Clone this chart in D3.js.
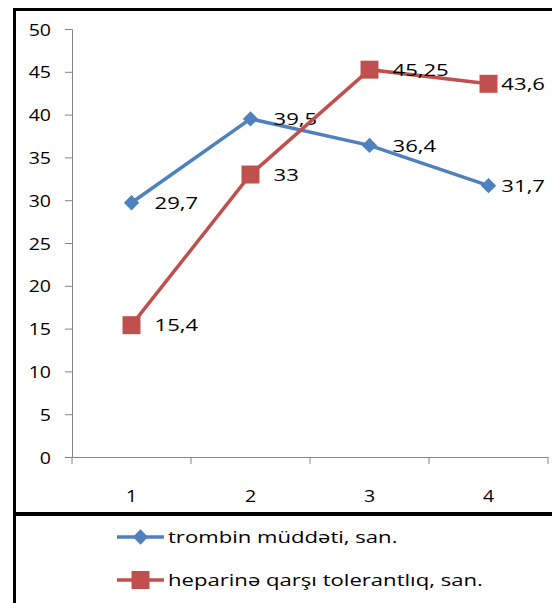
<!DOCTYPE html>
<html>
<head>
<meta charset="utf-8">
<script src="https://cdn.jsdelivr.net/npm/d3@7"></script>
<style>
  body { margin: 0; background: #fff; }
  svg text { font-family: "Open Sans", "Liberation Sans", sans-serif; fill: #000; font-size: 17px; }
</style>
</head>
<body>
<svg id="chart" width="552" height="603"></svg>
<script>
/* ==== Data ==== */
var categories = ["1", "2", "3", "4"];
var trombinValues = [29.7, 39.5, 36.4, 31.7];
var trombinLabels = ["29,7", "39,5", "36,4", "31,7"];
var heparinValues = [15.4, 33, 45.25, 43.6];
var heparinLabels = ["15,4", "33", "45,25", "43,6"];
var yTicks = [0, 5, 10, 15, 20, 25, 30, 35, 40, 45, 50];
var seriesNames = ["trombin müddəti, san.", "heparinə qarşı tolerantlıq, san."];

/* ==== Layout ==== */
var PLOT_LEFT = 72, PLOT_RIGHT = 548, PLOT_TOP = 29, PLOT_BOTTOM = 457;
var BLUE = "#4F81BD", RED = "#C0504D", AXIS = "#868686";
var STRETCH = 1.3; // the text in the picture is wide, stretch it sideways
var LABEL_MAX_RIGHT = 545;
function stretchAt(px, py, s) { return "translate(" + px + "," + py + ") scale(" + (s || STRETCH) + ",1)"; }

var svg = d3.select("#chart");

// outer frame and legend divider
svg.append("rect")
   .attr("x", 14.5).attr("y", 9.5)
   .attr("width", 560).attr("height", 620)
   .attr("fill", "none").attr("stroke", "#000").attr("stroke-width", 3);
svg.append("line")
   .attr("x1", 14).attr("x2", 552).attr("y1", 514).attr("y2", 514)
   .attr("stroke", "#000").attr("stroke-width", 4);

var x = d3.scaleBand().domain(categories).range([PLOT_LEFT, PLOT_RIGHT]);
var y = d3.scaleLinear().domain([0, 50]).range([PLOT_BOTTOM, PLOT_TOP]);
function cx(d, i) { return x(categories[i]) + x.bandwidth() / 2; }

/* ==== Axes ==== */
var yAxis = svg.append("g")
   .attr("transform", "translate(" + PLOT_LEFT + ",0)")
   .call(d3.axisLeft(y).tickValues(yTicks).tickSize(7));
yAxis.selectAll("text")
   .attr("x", null).attr("dy", "0.36em")
   .attr("transform", stretchAt(-21, 0, 1.15));

var xAxis = svg.append("g")
   .attr("transform", "translate(0," + PLOT_BOTTOM + ")")
   .call(d3.axisBottom(x).tickSize(0));
xAxis.selectAll("text")
   .attr("y", null).attr("dy", "0.36em")
   .attr("transform", stretchAt(0, 39, 1.15));
// category boundary ticks
xAxis.selectAll(".bound")
   .data(d3.range(categories.length + 1))
   .enter().append("line")
   .attr("x1", i => PLOT_LEFT + i * x.step())
   .attr("x2", i => PLOT_LEFT + i * x.step())
   .attr("y1", 0).attr("y2", 7)
   .attr("stroke", AXIS);
svg.selectAll(".domain, .tick line").attr("stroke", AXIS);

/* ==== Series ==== */
var line = d3.line().x(cx).y(d => y(d));

function drawSeries(values, labels, color, shape, size) {
  var g = svg.append("g");
  g.append("path")
   .datum(values)
   .attr("d", line)
   .attr("fill", "none")
   .attr("stroke", color)
   .attr("stroke-width", 3.5);
  g.selectAll(".mark")
   .data(values)
   .enter().append("path")
   .attr("d", d3.symbol().type(shape).size(size))
   .attr("transform", (d, i) => "translate(" + cx(d, i) + "," + y(d) + ")")
   .attr("fill", color);
  g.selectAll(".lbl")
   .data(values)
   .enter().append("text")
   .attr("dy", "0.36em")
   .text((d, i) => labels[i])
   .attr("transform", function(d, i) {
     // keep labels inside the frame, like the original does at the last point
     var w = this.getComputedTextLength() * STRETCH;
     return stretchAt(Math.min(cx(d, i) + 23, LABEL_MAX_RIGHT - w), y(d));
   });
}

drawSeries(trombinValues, trombinLabels, BLUE, d3.symbolDiamond2, 150);
drawSeries(heparinValues, heparinLabels, RED, d3.symbolSquare, 324);

/* ==== Legend ==== */
var legend = svg.append("g")
   .selectAll("g")
   .data(seriesNames)
   .enter().append("g")
   .attr("transform", (d, i) => "translate(117," + (537 + i * 43) + ")");
legend.append("line")
   .attr("x1", 0).attr("x2", 47)
   .attr("stroke", (d, i) => i ? RED : BLUE)
   .attr("stroke-width", 3.5);
legend.append("path")
   .attr("transform", "translate(23.5,0)")
   .attr("d", (d, i) => d3.symbol().type(i ? d3.symbolSquare : d3.symbolDiamond2).size(i ? 324 : 150)())
   .attr("fill", (d, i) => i ? RED : BLUE);
legend.append("text")
   .attr("transform", stretchAt(51, 0))
   .attr("dy", "0.36em")
   .text(d => d);
</script>
</body>
</html>
